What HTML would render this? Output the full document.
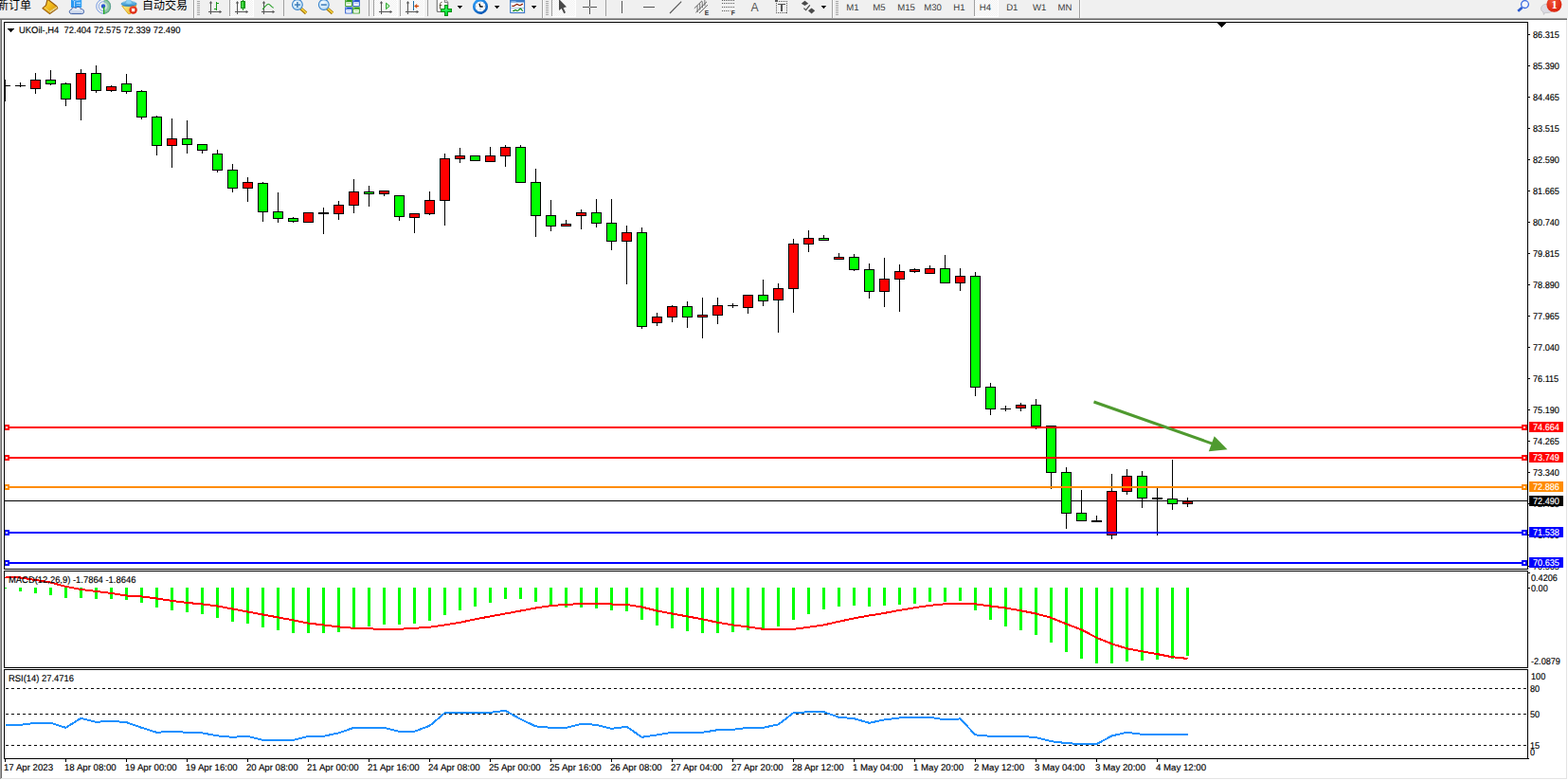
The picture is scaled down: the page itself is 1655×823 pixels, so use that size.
<!DOCTYPE html>
<html><head><meta charset="utf-8"><title>UKOil H4</title>
<style>
html,body{margin:0;padding:0;}
body{width:1655px;height:823px;overflow:hidden;background:#fff;position:relative;font-family:"Liberation Sans", sans-serif;}
.tb{position:absolute;left:0;top:0;width:1655px;height:19px;background:#f0f0f0;}
.chart{position:absolute;left:0;top:0;}
.tbs{position:absolute;left:0;top:0;overflow:hidden;}
.t{position:absolute;white-space:pre;line-height:11px;height:11px;font-family:"Liberation Sans", sans-serif;transform-origin:0 0;text-rendering:geometricPrecision;margin-top:1px;-webkit-text-stroke:0.15px;}
.pl{text-rendering:geometricPrecision;-webkit-text-stroke:0.15px;position:absolute;left:1614px;width:36px;height:11px;line-height:11px;font-size:9.8px;color:#fff;white-space:pre;}
.pl span{display:inline-block;position:relative;top:1px;transform:scaleX(0.93);transform-origin:0 0;margin-left:4px;}
</style></head><body>
<div class="tb"></div>
<svg class="chart" width="1655" height="823" viewBox="0 0 1655 823" shape-rendering="crispEdges">
<rect x="0" y="19" width="1654" height="1" fill="#a0a0a0"/>
<rect x="0" y="20" width="1654" height="1" fill="#696969"/>
<rect x="0" y="21" width="1" height="801" fill="#a0a0a0"/>
<rect x="1" y="21" width="1" height="800" fill="#696969"/>
<rect x="1653" y="21" width="1" height="801" fill="#e3e3e3"/>
<rect x="1" y="821" width="1653" height="1" fill="#e3e3e3"/>
<rect x="5" y="528" width="1607" height="1" fill="#000"/>
<rect x="4" y="23" width="1609" height="1" fill="#000"/>
<rect x="4" y="600" width="1609" height="1" fill="#000"/>
<rect x="4" y="23" width="1" height="578" fill="#000"/>
<rect x="1612" y="23" width="1" height="578" fill="#000"/>
<rect x="4" y="602" width="1609" height="1" fill="#000"/>
<rect x="4" y="704" width="1609" height="1" fill="#000"/>
<rect x="4" y="602" width="1" height="103" fill="#000"/>
<rect x="1612" y="602" width="1" height="103" fill="#000"/>
<rect x="4" y="706" width="1609" height="1" fill="#000"/>
<rect x="4" y="800" width="1609" height="1" fill="#000"/>
<rect x="4" y="706" width="1" height="95" fill="#000"/>
<rect x="1612" y="706" width="1" height="95" fill="#000"/>
<rect x="5" y="84" width="1" height="23" fill="#000"/>
<rect x="5" y="90" width="6" height="1" fill="#000"/>
<rect x="21" y="87" width="1" height="5" fill="#000"/>
<rect x="16" y="90" width="11" height="1" fill="#000"/>
<rect x="37" y="77" width="1" height="22" fill="#000"/>
<rect x="32" y="84" width="11" height="10" fill="#000"/>
<rect x="33" y="85" width="9" height="8" fill="#ff0000"/>
<rect x="53" y="74" width="1" height="16" fill="#000"/>
<rect x="48" y="84" width="11" height="5" fill="#000"/>
<rect x="49" y="85" width="9" height="3" fill="#00ff00"/>
<rect x="69" y="87" width="1" height="25" fill="#000"/>
<rect x="64" y="88" width="11" height="17" fill="#000"/>
<rect x="65" y="89" width="9" height="15" fill="#00ff00"/>
<rect x="85" y="73" width="1" height="54" fill="#000"/>
<rect x="80" y="77" width="11" height="28" fill="#000"/>
<rect x="81" y="78" width="9" height="26" fill="#ff0000"/>
<rect x="101" y="69" width="1" height="29" fill="#000"/>
<rect x="96" y="77" width="11" height="19" fill="#000"/>
<rect x="97" y="78" width="9" height="17" fill="#00ff00"/>
<rect x="117" y="90" width="1" height="7" fill="#000"/>
<rect x="112" y="91" width="11" height="5" fill="#000"/>
<rect x="113" y="92" width="9" height="3" fill="#ff0000"/>
<rect x="133" y="78" width="1" height="21" fill="#000"/>
<rect x="128" y="88" width="11" height="9" fill="#000"/>
<rect x="129" y="89" width="9" height="7" fill="#00ff00"/>
<rect x="149" y="95" width="1" height="31" fill="#000"/>
<rect x="144" y="96" width="11" height="28" fill="#000"/>
<rect x="145" y="97" width="9" height="26" fill="#00ff00"/>
<rect x="165" y="122" width="1" height="42" fill="#000"/>
<rect x="160" y="123" width="11" height="31" fill="#000"/>
<rect x="161" y="124" width="9" height="29" fill="#00ff00"/>
<rect x="181" y="125" width="1" height="52" fill="#000"/>
<rect x="176" y="146" width="11" height="8" fill="#000"/>
<rect x="177" y="147" width="9" height="6" fill="#ff0000"/>
<rect x="197" y="127" width="1" height="35" fill="#000"/>
<rect x="192" y="146" width="11" height="7" fill="#000"/>
<rect x="193" y="147" width="9" height="5" fill="#00ff00"/>
<rect x="213" y="152" width="1" height="10" fill="#000"/>
<rect x="208" y="152" width="11" height="7" fill="#000"/>
<rect x="209" y="153" width="9" height="5" fill="#00ff00"/>
<rect x="229" y="158" width="1" height="24" fill="#000"/>
<rect x="224" y="162" width="11" height="18" fill="#000"/>
<rect x="225" y="163" width="9" height="16" fill="#00ff00"/>
<rect x="245" y="173" width="1" height="30" fill="#000"/>
<rect x="240" y="179" width="11" height="20" fill="#000"/>
<rect x="241" y="180" width="9" height="18" fill="#00ff00"/>
<rect x="261" y="187" width="1" height="26" fill="#000"/>
<rect x="256" y="192" width="11" height="7" fill="#000"/>
<rect x="257" y="193" width="9" height="5" fill="#ff0000"/>
<rect x="277" y="192" width="1" height="42" fill="#000"/>
<rect x="272" y="193" width="11" height="31" fill="#000"/>
<rect x="273" y="194" width="9" height="29" fill="#00ff00"/>
<rect x="293" y="203" width="1" height="32" fill="#000"/>
<rect x="288" y="223" width="11" height="8" fill="#000"/>
<rect x="289" y="224" width="9" height="6" fill="#00ff00"/>
<rect x="309" y="229" width="1" height="6" fill="#000"/>
<rect x="304" y="230" width="11" height="4" fill="#000"/>
<rect x="305" y="231" width="9" height="2" fill="#00ff00"/>
<rect x="325" y="224" width="1" height="11" fill="#000"/>
<rect x="320" y="224" width="11" height="11" fill="#000"/>
<rect x="321" y="225" width="9" height="9" fill="#ff0000"/>
<rect x="341" y="219" width="1" height="28" fill="#000"/>
<rect x="336" y="224" width="11" height="2" fill="#000"/>
<rect x="357" y="212" width="1" height="20" fill="#000"/>
<rect x="352" y="216" width="11" height="10" fill="#000"/>
<rect x="353" y="217" width="9" height="8" fill="#ff0000"/>
<rect x="373" y="189" width="1" height="36" fill="#000"/>
<rect x="368" y="202" width="11" height="15" fill="#000"/>
<rect x="369" y="203" width="9" height="13" fill="#ff0000"/>
<rect x="389" y="196" width="1" height="22" fill="#000"/>
<rect x="384" y="202" width="11" height="3" fill="#000"/>
<rect x="385" y="203" width="9" height="1" fill="#00ff00"/>
<rect x="405" y="201" width="1" height="6" fill="#000"/>
<rect x="400" y="201" width="11" height="4" fill="#000"/>
<rect x="401" y="202" width="9" height="2" fill="#ff0000"/>
<rect x="421" y="206" width="1" height="27" fill="#000"/>
<rect x="416" y="206" width="11" height="23" fill="#000"/>
<rect x="417" y="207" width="9" height="21" fill="#00ff00"/>
<rect x="437" y="225" width="1" height="21" fill="#000"/>
<rect x="432" y="225" width="11" height="5" fill="#000"/>
<rect x="433" y="226" width="9" height="3" fill="#ff0000"/>
<rect x="453" y="202" width="1" height="25" fill="#000"/>
<rect x="448" y="211" width="11" height="15" fill="#000"/>
<rect x="449" y="212" width="9" height="13" fill="#ff0000"/>
<rect x="469" y="162" width="1" height="76" fill="#000"/>
<rect x="464" y="167" width="11" height="45" fill="#000"/>
<rect x="465" y="168" width="9" height="43" fill="#ff0000"/>
<rect x="485" y="156" width="1" height="16" fill="#000"/>
<rect x="480" y="164" width="11" height="4" fill="#000"/>
<rect x="481" y="165" width="9" height="2" fill="#ff0000"/>
<rect x="501" y="164" width="1" height="6" fill="#000"/>
<rect x="496" y="164" width="11" height="6" fill="#000"/>
<rect x="497" y="165" width="9" height="4" fill="#00ff00"/>
<rect x="517" y="155" width="1" height="16" fill="#000"/>
<rect x="512" y="164" width="11" height="7" fill="#000"/>
<rect x="513" y="165" width="9" height="5" fill="#ff0000"/>
<rect x="533" y="153" width="1" height="23" fill="#000"/>
<rect x="528" y="155" width="11" height="10" fill="#000"/>
<rect x="529" y="156" width="9" height="8" fill="#ff0000"/>
<rect x="549" y="153" width="1" height="40" fill="#000"/>
<rect x="544" y="155" width="11" height="38" fill="#000"/>
<rect x="545" y="156" width="9" height="36" fill="#00ff00"/>
<rect x="565" y="178" width="1" height="72" fill="#000"/>
<rect x="560" y="192" width="11" height="36" fill="#000"/>
<rect x="561" y="193" width="9" height="34" fill="#00ff00"/>
<rect x="581" y="211" width="1" height="33" fill="#000"/>
<rect x="576" y="227" width="11" height="12" fill="#000"/>
<rect x="577" y="228" width="9" height="10" fill="#00ff00"/>
<rect x="597" y="232" width="1" height="7" fill="#000"/>
<rect x="592" y="236" width="11" height="3" fill="#000"/>
<rect x="593" y="237" width="9" height="1" fill="#ff0000"/>
<rect x="613" y="221" width="1" height="21" fill="#000"/>
<rect x="608" y="224" width="11" height="4" fill="#000"/>
<rect x="609" y="225" width="9" height="2" fill="#ff0000"/>
<rect x="629" y="210" width="1" height="30" fill="#000"/>
<rect x="624" y="224" width="11" height="12" fill="#000"/>
<rect x="625" y="225" width="9" height="10" fill="#00ff00"/>
<rect x="645" y="210" width="1" height="54" fill="#000"/>
<rect x="640" y="235" width="11" height="20" fill="#000"/>
<rect x="641" y="236" width="9" height="18" fill="#00ff00"/>
<rect x="661" y="238" width="1" height="62" fill="#000"/>
<rect x="656" y="245" width="11" height="10" fill="#000"/>
<rect x="657" y="246" width="9" height="8" fill="#ff0000"/>
<rect x="677" y="240" width="1" height="107" fill="#000"/>
<rect x="672" y="245" width="11" height="100" fill="#000"/>
<rect x="673" y="246" width="9" height="98" fill="#00ff00"/>
<rect x="693" y="330" width="1" height="14" fill="#000"/>
<rect x="688" y="334" width="11" height="7" fill="#000"/>
<rect x="689" y="335" width="9" height="5" fill="#ff0000"/>
<rect x="709" y="322" width="1" height="18" fill="#000"/>
<rect x="704" y="323" width="11" height="12" fill="#000"/>
<rect x="705" y="324" width="9" height="10" fill="#ff0000"/>
<rect x="725" y="318" width="1" height="28" fill="#000"/>
<rect x="720" y="323" width="11" height="12" fill="#000"/>
<rect x="721" y="324" width="9" height="10" fill="#00ff00"/>
<rect x="741" y="314" width="1" height="43" fill="#000"/>
<rect x="736" y="332" width="11" height="3" fill="#000"/>
<rect x="737" y="333" width="9" height="1" fill="#ff0000"/>
<rect x="757" y="314" width="1" height="28" fill="#000"/>
<rect x="752" y="322" width="11" height="11" fill="#000"/>
<rect x="753" y="323" width="9" height="9" fill="#ff0000"/>
<rect x="773" y="320" width="1" height="5" fill="#000"/>
<rect x="768" y="322" width="11" height="1" fill="#000"/>
<rect x="789" y="311" width="1" height="20" fill="#000"/>
<rect x="784" y="311" width="11" height="14" fill="#000"/>
<rect x="785" y="312" width="9" height="12" fill="#ff0000"/>
<rect x="805" y="295" width="1" height="28" fill="#000"/>
<rect x="800" y="311" width="11" height="7" fill="#000"/>
<rect x="801" y="312" width="9" height="5" fill="#00ff00"/>
<rect x="821" y="299" width="1" height="52" fill="#000"/>
<rect x="816" y="304" width="11" height="13" fill="#000"/>
<rect x="817" y="305" width="9" height="11" fill="#ff0000"/>
<rect x="837" y="252" width="1" height="78" fill="#000"/>
<rect x="832" y="257" width="11" height="48" fill="#000"/>
<rect x="833" y="258" width="9" height="46" fill="#ff0000"/>
<rect x="853" y="243" width="1" height="23" fill="#000"/>
<rect x="848" y="251" width="11" height="7" fill="#000"/>
<rect x="849" y="252" width="9" height="5" fill="#ff0000"/>
<rect x="869" y="248" width="1" height="6" fill="#000"/>
<rect x="864" y="251" width="11" height="3" fill="#000"/>
<rect x="865" y="252" width="9" height="1" fill="#00ff00"/>
<rect x="885" y="267" width="1" height="7" fill="#000"/>
<rect x="880" y="271" width="11" height="3" fill="#000"/>
<rect x="881" y="272" width="9" height="1" fill="#ff0000"/>
<rect x="901" y="268" width="1" height="18" fill="#000"/>
<rect x="896" y="271" width="11" height="14" fill="#000"/>
<rect x="897" y="272" width="9" height="12" fill="#00ff00"/>
<rect x="917" y="278" width="1" height="37" fill="#000"/>
<rect x="912" y="284" width="11" height="24" fill="#000"/>
<rect x="913" y="285" width="9" height="22" fill="#00ff00"/>
<rect x="933" y="272" width="1" height="52" fill="#000"/>
<rect x="928" y="294" width="11" height="14" fill="#000"/>
<rect x="929" y="295" width="9" height="12" fill="#ff0000"/>
<rect x="949" y="279" width="1" height="50" fill="#000"/>
<rect x="944" y="286" width="11" height="9" fill="#000"/>
<rect x="945" y="287" width="9" height="7" fill="#ff0000"/>
<rect x="965" y="283" width="1" height="5" fill="#000"/>
<rect x="960" y="284" width="11" height="3" fill="#000"/>
<rect x="961" y="285" width="9" height="1" fill="#ff0000"/>
<rect x="981" y="280" width="1" height="9" fill="#000"/>
<rect x="976" y="283" width="11" height="6" fill="#000"/>
<rect x="977" y="284" width="9" height="4" fill="#ff0000"/>
<rect x="997" y="269" width="1" height="30" fill="#000"/>
<rect x="992" y="283" width="11" height="16" fill="#000"/>
<rect x="993" y="284" width="9" height="14" fill="#00ff00"/>
<rect x="1013" y="283" width="1" height="24" fill="#000"/>
<rect x="1008" y="291" width="11" height="8" fill="#000"/>
<rect x="1009" y="292" width="9" height="6" fill="#ff0000"/>
<rect x="1029" y="287" width="1" height="131" fill="#000"/>
<rect x="1024" y="291" width="11" height="118" fill="#000"/>
<rect x="1025" y="292" width="9" height="116" fill="#00ff00"/>
<rect x="1045" y="404" width="1" height="34" fill="#000"/>
<rect x="1040" y="408" width="11" height="24" fill="#000"/>
<rect x="1041" y="409" width="9" height="22" fill="#00ff00"/>
<rect x="1061" y="428" width="1" height="6" fill="#000"/>
<rect x="1056" y="431" width="11" height="1" fill="#000"/>
<rect x="1077" y="425" width="1" height="9" fill="#000"/>
<rect x="1072" y="427" width="11" height="4" fill="#000"/>
<rect x="1073" y="428" width="9" height="2" fill="#ff0000"/>
<rect x="1093" y="421" width="1" height="32" fill="#000"/>
<rect x="1088" y="427" width="11" height="23" fill="#000"/>
<rect x="1089" y="428" width="9" height="21" fill="#00ff00"/>
<rect x="1109" y="449" width="1" height="67" fill="#000"/>
<rect x="1104" y="449" width="11" height="50" fill="#000"/>
<rect x="1105" y="450" width="9" height="48" fill="#00ff00"/>
<rect x="1125" y="493" width="1" height="65" fill="#000"/>
<rect x="1120" y="498" width="11" height="44" fill="#000"/>
<rect x="1121" y="499" width="9" height="42" fill="#00ff00"/>
<rect x="1141" y="517" width="1" height="33" fill="#000"/>
<rect x="1136" y="541" width="11" height="9" fill="#000"/>
<rect x="1137" y="542" width="9" height="7" fill="#00ff00"/>
<rect x="1157" y="544" width="1" height="7" fill="#000"/>
<rect x="1152" y="549" width="11" height="2" fill="#000"/>
<rect x="1173" y="500" width="1" height="69" fill="#000"/>
<rect x="1168" y="518" width="11" height="47" fill="#000"/>
<rect x="1169" y="519" width="9" height="45" fill="#ff0000"/>
<rect x="1189" y="495" width="1" height="27" fill="#000"/>
<rect x="1184" y="502" width="11" height="17" fill="#000"/>
<rect x="1185" y="503" width="9" height="15" fill="#ff0000"/>
<rect x="1205" y="497" width="1" height="39" fill="#000"/>
<rect x="1200" y="502" width="11" height="24" fill="#000"/>
<rect x="1201" y="503" width="9" height="22" fill="#00ff00"/>
<rect x="1221" y="515" width="1" height="50" fill="#000"/>
<rect x="1216" y="525" width="11" height="2" fill="#000"/>
<rect x="1237" y="485" width="1" height="53" fill="#000"/>
<rect x="1232" y="526" width="11" height="6" fill="#000"/>
<rect x="1233" y="527" width="9" height="4" fill="#00ff00"/>
<rect x="1253" y="525" width="1" height="10" fill="#000"/>
<rect x="1248" y="529" width="11" height="3" fill="#000"/>
<rect x="1249" y="530" width="9" height="1" fill="#ff0000"/>
<rect x="5" y="450" width="1607" height="2" fill="#ff0000"/>
<rect x="5" y="448" width="5" height="6" fill="#ff0000"/>
<rect x="6" y="450" width="2" height="2" fill="#fff"/>
<rect x="1606" y="448" width="6" height="6" fill="#ff0000"/>
<rect x="1608" y="450" width="2" height="2" fill="#fff"/>
<rect x="5" y="482" width="1607" height="2" fill="#ff0000"/>
<rect x="5" y="480" width="5" height="6" fill="#ff0000"/>
<rect x="6" y="482" width="2" height="2" fill="#fff"/>
<rect x="1606" y="480" width="6" height="6" fill="#ff0000"/>
<rect x="1608" y="482" width="2" height="2" fill="#fff"/>
<rect x="5" y="513" width="1607" height="2" fill="#ff8c00"/>
<rect x="5" y="511" width="5" height="6" fill="#ff8c00"/>
<rect x="6" y="513" width="2" height="2" fill="#fff"/>
<rect x="1606" y="511" width="6" height="6" fill="#ff8c00"/>
<rect x="1608" y="513" width="2" height="2" fill="#fff"/>
<rect x="5" y="561" width="1607" height="2" fill="#0000ff"/>
<rect x="5" y="559" width="5" height="6" fill="#0000ff"/>
<rect x="6" y="561" width="2" height="2" fill="#fff"/>
<rect x="1606" y="559" width="6" height="6" fill="#0000ff"/>
<rect x="1608" y="561" width="2" height="2" fill="#fff"/>
<rect x="5" y="593" width="1607" height="2" fill="#0000ff"/>
<rect x="5" y="591" width="5" height="6" fill="#0000ff"/>
<rect x="6" y="593" width="2" height="2" fill="#fff"/>
<rect x="1606" y="591" width="6" height="6" fill="#0000ff"/>
<rect x="1608" y="593" width="2" height="2" fill="#fff"/>
<rect x="1285" y="24" width="9" height="1" fill="#000"/>
<rect x="1286" y="25" width="7" height="1" fill="#000"/>
<rect x="1287" y="26" width="5" height="1" fill="#000"/>
<rect x="1288" y="27" width="3" height="1" fill="#000"/>
<rect x="1289" y="28" width="1" height="1" fill="#000"/>
<rect x="8" y="30" width="7" height="1" fill="#000"/>
<rect x="9" y="31" width="5" height="1" fill="#000"/>
<rect x="10" y="32" width="3" height="1" fill="#000"/>
<rect x="11" y="33" width="1" height="1" fill="#000"/>
<g shape-rendering="auto"><line x1="1154.5" y1="424" x2="1281" y2="468.6" stroke="#4f9a2f" stroke-width="3"/><polygon points="1281.7,460.3 1295.5,474.2 1275.8,476.3" fill="#4f9a2f"/></g>
<rect x="5" y="620" width="2" height="1" fill="#00ff00"/>
<rect x="20" y="620" width="3" height="4" fill="#00ff00"/>
<rect x="36" y="620" width="3" height="6" fill="#00ff00"/>
<rect x="52" y="620" width="3" height="8" fill="#00ff00"/>
<rect x="68" y="620" width="3" height="11" fill="#00ff00"/>
<rect x="84" y="620" width="3" height="11" fill="#00ff00"/>
<rect x="100" y="620" width="3" height="12" fill="#00ff00"/>
<rect x="116" y="620" width="3" height="12" fill="#00ff00"/>
<rect x="132" y="620" width="3" height="13" fill="#00ff00"/>
<rect x="148" y="620" width="3" height="16" fill="#00ff00"/>
<rect x="164" y="620" width="3" height="21" fill="#00ff00"/>
<rect x="180" y="620" width="3" height="24" fill="#00ff00"/>
<rect x="196" y="620" width="3" height="26" fill="#00ff00"/>
<rect x="212" y="620" width="3" height="28" fill="#00ff00"/>
<rect x="228" y="620" width="3" height="32" fill="#00ff00"/>
<rect x="244" y="620" width="3" height="36" fill="#00ff00"/>
<rect x="260" y="620" width="3" height="38" fill="#00ff00"/>
<rect x="276" y="620" width="3" height="42" fill="#00ff00"/>
<rect x="292" y="620" width="3" height="45" fill="#00ff00"/>
<rect x="308" y="620" width="3" height="48" fill="#00ff00"/>
<rect x="324" y="620" width="3" height="48" fill="#00ff00"/>
<rect x="340" y="620" width="3" height="48" fill="#00ff00"/>
<rect x="356" y="620" width="3" height="47" fill="#00ff00"/>
<rect x="372" y="620" width="3" height="43" fill="#00ff00"/>
<rect x="388" y="620" width="3" height="41" fill="#00ff00"/>
<rect x="404" y="620" width="3" height="39" fill="#00ff00"/>
<rect x="420" y="620" width="3" height="39" fill="#00ff00"/>
<rect x="436" y="620" width="3" height="38" fill="#00ff00"/>
<rect x="452" y="620" width="3" height="35" fill="#00ff00"/>
<rect x="468" y="620" width="3" height="29" fill="#00ff00"/>
<rect x="484" y="620" width="3" height="24" fill="#00ff00"/>
<rect x="500" y="620" width="3" height="20" fill="#00ff00"/>
<rect x="516" y="620" width="3" height="16" fill="#00ff00"/>
<rect x="532" y="620" width="3" height="12" fill="#00ff00"/>
<rect x="548" y="620" width="3" height="12" fill="#00ff00"/>
<rect x="564" y="620" width="3" height="15" fill="#00ff00"/>
<rect x="580" y="620" width="3" height="19" fill="#00ff00"/>
<rect x="596" y="620" width="3" height="21" fill="#00ff00"/>
<rect x="612" y="620" width="3" height="21" fill="#00ff00"/>
<rect x="628" y="620" width="3" height="22" fill="#00ff00"/>
<rect x="644" y="620" width="3" height="24" fill="#00ff00"/>
<rect x="660" y="620" width="3" height="25" fill="#00ff00"/>
<rect x="676" y="620" width="3" height="34" fill="#00ff00"/>
<rect x="692" y="620" width="3" height="40" fill="#00ff00"/>
<rect x="708" y="620" width="3" height="43" fill="#00ff00"/>
<rect x="724" y="620" width="3" height="46" fill="#00ff00"/>
<rect x="740" y="620" width="3" height="48" fill="#00ff00"/>
<rect x="756" y="620" width="3" height="48" fill="#00ff00"/>
<rect x="772" y="620" width="3" height="47" fill="#00ff00"/>
<rect x="788" y="620" width="3" height="45" fill="#00ff00"/>
<rect x="804" y="620" width="3" height="44" fill="#00ff00"/>
<rect x="820" y="620" width="3" height="41" fill="#00ff00"/>
<rect x="836" y="620" width="3" height="34" fill="#00ff00"/>
<rect x="852" y="620" width="3" height="28" fill="#00ff00"/>
<rect x="868" y="620" width="3" height="23" fill="#00ff00"/>
<rect x="884" y="620" width="3" height="20" fill="#00ff00"/>
<rect x="900" y="620" width="3" height="19" fill="#00ff00"/>
<rect x="916" y="620" width="3" height="20" fill="#00ff00"/>
<rect x="932" y="620" width="3" height="19" fill="#00ff00"/>
<rect x="948" y="620" width="3" height="18" fill="#00ff00"/>
<rect x="964" y="620" width="3" height="17" fill="#00ff00"/>
<rect x="980" y="620" width="3" height="15" fill="#00ff00"/>
<rect x="996" y="620" width="3" height="15" fill="#00ff00"/>
<rect x="1012" y="620" width="3" height="14" fill="#00ff00"/>
<rect x="1028" y="620" width="3" height="24" fill="#00ff00"/>
<rect x="1044" y="620" width="3" height="34" fill="#00ff00"/>
<rect x="1060" y="620" width="3" height="41" fill="#00ff00"/>
<rect x="1076" y="620" width="3" height="45" fill="#00ff00"/>
<rect x="1092" y="620" width="3" height="50" fill="#00ff00"/>
<rect x="1108" y="620" width="3" height="58" fill="#00ff00"/>
<rect x="1124" y="620" width="3" height="68" fill="#00ff00"/>
<rect x="1140" y="620" width="3" height="75" fill="#00ff00"/>
<rect x="1156" y="620" width="3" height="80" fill="#00ff00"/>
<rect x="1172" y="620" width="3" height="80" fill="#00ff00"/>
<rect x="1188" y="620" width="3" height="78" fill="#00ff00"/>
<rect x="1204" y="620" width="3" height="77" fill="#00ff00"/>
<rect x="1220" y="620" width="3" height="76" fill="#00ff00"/>
<rect x="1236" y="620" width="3" height="75" fill="#00ff00"/>
<rect x="1252" y="620" width="3" height="72" fill="#00ff00"/>
<polyline points="5.5,609 21.5,609.5 37.5,612 53.5,614.6 69.5,618.9 85.5,621.9 101.5,623.9 117.5,625.9 133.5,628.5 149.5,629.5 165.5,631.5 181.5,633.9 197.5,635.9 213.5,637.5 229.5,639.5 245.5,642.5 261.5,645.5 277.5,648.5 293.5,651.4 309.5,654.4 325.5,657.6 341.5,659.4 357.5,661.4 373.5,662.8 389.5,663.4 405.5,663.8 421.5,663.8 437.5,662.8 453.5,661.8 469.5,659.4 485.5,656.8 501.5,653.4 517.5,650.4 533.5,647.5 549.5,644.5 565.5,641.5 581.5,639.1 597.5,637.9 613.5,637.1 629.5,637.1 645.5,637.5 661.5,637.9 677.5,640.5 693.5,644.5 709.5,647.5 725.5,650.4 741.5,653.4 757.5,656.8 773.5,659.4 789.5,661.4 805.5,663.8 821.5,663.8 837.5,663.8 853.5,661.8 869.5,659.4 885.5,655.8 901.5,652.4 917.5,649.5 933.5,646.9 949.5,643.9 965.5,641.2 981.5,638.9 997.5,637.3 1013.5,636.9 1029.5,637.3 1045.5,639.5 1061.5,641.5 1077.5,644.3 1093.5,647.5 1109.5,651.8 1125.5,658.4 1141.5,664.4 1157.5,672.8 1173.5,679.4 1189.5,684.3 1205.5,687.3 1221.5,690.1 1237.5,693.3 1253.5,694.9" fill="none" stroke="#ff0000" stroke-width="2"/>
<line x1="6" y1="726.5" x2="1612" y2="726.5" stroke="#000" stroke-width="1" stroke-dasharray="3 3"/>
<line x1="6" y1="753.5" x2="1612" y2="753.5" stroke="#000" stroke-width="1" stroke-dasharray="3 3"/>
<line x1="6" y1="786.5" x2="1612" y2="786.5" stroke="#000" stroke-width="1" stroke-dasharray="3 3"/>
<polyline points="5.5,764.8 21.5,764.8 37.5,762.8 53.5,762.8 69.5,767.8 85.5,757.8 101.5,761.8 117.5,760.8 133.5,762.2 149.5,767.8 165.5,772.8 181.5,771.8 197.5,772.8 213.5,773.4 229.5,776.4 245.5,777.8 261.5,776.8 277.5,780.8 293.5,780.8 309.5,780.8 325.5,776.8 341.5,776.8 357.5,773.4 373.5,767.8 389.5,767.8 405.5,767.8 421.5,771.8 437.5,771.8 453.5,765.8 469.5,752.2 485.5,752.2 501.5,752.2 517.5,751.8 533.5,749.9 549.5,758.8 565.5,766.4 581.5,767.8 597.5,767.8 613.5,763.8 629.5,764.8 645.5,768.8 661.5,766.8 677.5,777.8 693.5,775.4 709.5,772.8 725.5,772.8 741.5,772.8 757.5,770.2 773.5,769.8 789.5,767.8 805.5,767.8 821.5,764.4 837.5,752.2 853.5,751.2 869.5,751.2 885.5,756.8 901.5,758.2 917.5,762.8 933.5,759.4 949.5,757.4 965.5,756.8 981.5,756.8 997.5,759.4 1013.5,758.4 1029.5,775.4 1045.5,776.8 1061.5,776.8 1077.5,776.8 1093.5,778.2 1109.5,782.2 1125.5,784.1 1141.5,785.1 1157.5,785.1 1173.5,776.4 1189.5,772.8 1205.5,774.8 1221.5,774.8 1237.5,774.8 1253.5,774.8" fill="none" stroke="#1e90ff" stroke-width="2"/>
<rect x="5" y="801" width="1" height="3" fill="#000"/>
<rect x="69" y="801" width="1" height="3" fill="#000"/>
<rect x="133" y="801" width="1" height="3" fill="#000"/>
<rect x="197" y="801" width="1" height="3" fill="#000"/>
<rect x="261" y="801" width="1" height="3" fill="#000"/>
<rect x="325" y="801" width="1" height="3" fill="#000"/>
<rect x="389" y="801" width="1" height="3" fill="#000"/>
<rect x="453" y="801" width="1" height="3" fill="#000"/>
<rect x="517" y="801" width="1" height="3" fill="#000"/>
<rect x="581" y="801" width="1" height="3" fill="#000"/>
<rect x="645" y="801" width="1" height="3" fill="#000"/>
<rect x="709" y="801" width="1" height="3" fill="#000"/>
<rect x="773" y="801" width="1" height="3" fill="#000"/>
<rect x="837" y="801" width="1" height="3" fill="#000"/>
<rect x="901" y="801" width="1" height="3" fill="#000"/>
<rect x="965" y="801" width="1" height="3" fill="#000"/>
<rect x="1029" y="801" width="1" height="3" fill="#000"/>
<rect x="1093" y="801" width="1" height="3" fill="#000"/>
<rect x="1157" y="801" width="1" height="3" fill="#000"/>
<rect x="1221" y="801" width="1" height="3" fill="#000"/>
<rect x="1613" y="36" width="2" height="1" fill="#000"/>
<rect x="1613" y="69" width="2" height="1" fill="#000"/>
<rect x="1613" y="102" width="2" height="1" fill="#000"/>
<rect x="1613" y="135" width="2" height="1" fill="#000"/>
<rect x="1613" y="168" width="2" height="1" fill="#000"/>
<rect x="1613" y="201" width="2" height="1" fill="#000"/>
<rect x="1613" y="234" width="2" height="1" fill="#000"/>
<rect x="1613" y="267" width="2" height="1" fill="#000"/>
<rect x="1613" y="300" width="2" height="1" fill="#000"/>
<rect x="1613" y="333" width="2" height="1" fill="#000"/>
<rect x="1613" y="366" width="2" height="1" fill="#000"/>
<rect x="1613" y="399" width="2" height="1" fill="#000"/>
<rect x="1613" y="432" width="2" height="1" fill="#000"/>
<rect x="1613" y="465" width="2" height="1" fill="#000"/>
<rect x="1613" y="498" width="2" height="1" fill="#000"/>
<rect x="1613" y="531" width="2" height="1" fill="#000"/>
<rect x="1613" y="564" width="2" height="1" fill="#000"/>
<rect x="1613" y="597" width="2" height="1" fill="#000"/>
<rect x="1613" y="604" width="2" height="1" fill="#000"/>
<rect x="1613" y="620" width="2" height="1" fill="#000"/>
<rect x="1613" y="800" width="1" height="1" fill="#000"/>
</svg>
<div class="t" style="left:20px;top:26px;color:#000;font-size:9.8px;transform:scaleX(0.96);">UKOil-,H4&nbsp; 72.404 72.575 72.339 72.490</div>
<div class="t" style="left:9px;top:606px;color:#000;font-size:9.8px;transform:scaleX(0.96);">MACD(12,26,9) -1.7864 -1.8646</div>
<div class="t" style="left:9px;top:710px;color:#000;font-size:9.8px;transform:scaleX(0.96);">RSI(14) 27.4716</div>
<div class="t" style="left:1618px;top:31px;color:#000;font-size:9.8px;transform:scaleX(0.93);">86.315</div>
<div class="t" style="left:1618px;top:64px;color:#000;font-size:9.8px;transform:scaleX(0.93);">85.390</div>
<div class="t" style="left:1618px;top:97px;color:#000;font-size:9.8px;transform:scaleX(0.93);">84.465</div>
<div class="t" style="left:1618px;top:130px;color:#000;font-size:9.8px;transform:scaleX(0.93);">83.515</div>
<div class="t" style="left:1618px;top:163px;color:#000;font-size:9.8px;transform:scaleX(0.93);">82.590</div>
<div class="t" style="left:1618px;top:196px;color:#000;font-size:9.8px;transform:scaleX(0.93);">81.665</div>
<div class="t" style="left:1618px;top:229px;color:#000;font-size:9.8px;transform:scaleX(0.93);">80.740</div>
<div class="t" style="left:1618px;top:262px;color:#000;font-size:9.8px;transform:scaleX(0.93);">79.815</div>
<div class="t" style="left:1618px;top:295px;color:#000;font-size:9.8px;transform:scaleX(0.93);">78.890</div>
<div class="t" style="left:1618px;top:328px;color:#000;font-size:9.8px;transform:scaleX(0.93);">77.965</div>
<div class="t" style="left:1618px;top:361px;color:#000;font-size:9.8px;transform:scaleX(0.93);">77.040</div>
<div class="t" style="left:1618px;top:394px;color:#000;font-size:9.8px;transform:scaleX(0.93);">76.115</div>
<div class="t" style="left:1618px;top:427px;color:#000;font-size:9.8px;transform:scaleX(0.93);">75.190</div>
<div class="t" style="left:1618px;top:460px;color:#000;font-size:9.8px;transform:scaleX(0.93);">74.265</div>
<div class="t" style="left:1618px;top:493px;color:#000;font-size:9.8px;transform:scaleX(0.93);">73.340</div>
<div class="t" style="left:1618px;top:526px;color:#000;font-size:9.8px;transform:scaleX(0.93);">72.415</div>
<div class="t" style="left:1618px;top:559px;color:#000;font-size:9.8px;transform:scaleX(0.93);">71.490</div>
<div class="t" style="left:1618px;top:592px;color:#000;font-size:9.8px;transform:scaleX(0.93);">70.565</div>
<div class="t" style="left:1616px;top:604px;color:#000;font-size:9.8px;transform:scaleX(0.93);">0.4206</div>
<div class="t" style="left:1616px;top:615px;color:#000;font-size:9.8px;transform:scaleX(0.93);">0.00</div>
<div class="t" style="left:1616px;top:692px;color:#000;font-size:9.8px;transform:scaleX(0.93);">-2.0879</div>
<div class="t" style="left:1615.6px;top:708px;color:#000;font-size:9.8px;transform:scaleX(0.93);">100</div>
<div class="t" style="left:1615.4px;top:721px;color:#000;font-size:9.8px;transform:scaleX(0.93);">80</div>
<div class="t" style="left:1615.4px;top:748px;color:#000;font-size:9.8px;transform:scaleX(0.93);">50</div>
<div class="t" style="left:1615.4px;top:781px;color:#000;font-size:9.8px;transform:scaleX(0.93);">15</div>
<div class="t" style="left:1615.4px;top:788px;color:#000;font-size:9.8px;transform:scaleX(0.93);">0</div>
<div class="t" style="left:4px;top:804px;color:#000;font-size:9.8px;transform:scaleX(0.985);">17 Apr 2023</div>
<div class="t" style="left:68px;top:804px;color:#000;font-size:9.8px;transform:scaleX(0.985);">18 Apr 08:00</div>
<div class="t" style="left:132px;top:804px;color:#000;font-size:9.8px;transform:scaleX(0.985);">19 Apr 00:00</div>
<div class="t" style="left:196px;top:804px;color:#000;font-size:9.8px;transform:scaleX(0.985);">19 Apr 16:00</div>
<div class="t" style="left:260px;top:804px;color:#000;font-size:9.8px;transform:scaleX(0.985);">20 Apr 08:00</div>
<div class="t" style="left:324px;top:804px;color:#000;font-size:9.8px;transform:scaleX(0.985);">21 Apr 00:00</div>
<div class="t" style="left:388px;top:804px;color:#000;font-size:9.8px;transform:scaleX(0.985);">21 Apr 16:00</div>
<div class="t" style="left:452px;top:804px;color:#000;font-size:9.8px;transform:scaleX(0.985);">24 Apr 08:00</div>
<div class="t" style="left:516px;top:804px;color:#000;font-size:9.8px;transform:scaleX(0.985);">25 Apr 00:00</div>
<div class="t" style="left:580px;top:804px;color:#000;font-size:9.8px;transform:scaleX(0.985);">25 Apr 16:00</div>
<div class="t" style="left:644px;top:804px;color:#000;font-size:9.8px;transform:scaleX(0.985);">26 Apr 08:00</div>
<div class="t" style="left:708px;top:804px;color:#000;font-size:9.8px;transform:scaleX(0.985);">27 Apr 04:00</div>
<div class="t" style="left:772px;top:804px;color:#000;font-size:9.8px;transform:scaleX(0.985);">27 Apr 20:00</div>
<div class="t" style="left:836px;top:804px;color:#000;font-size:9.8px;transform:scaleX(0.985);">28 Apr 12:00</div>
<div class="t" style="left:900px;top:804px;color:#000;font-size:9.8px;transform:scaleX(0.985);">1 May 04:00</div>
<div class="t" style="left:964px;top:804px;color:#000;font-size:9.8px;transform:scaleX(0.985);">1 May 20:00</div>
<div class="t" style="left:1028px;top:804px;color:#000;font-size:9.8px;transform:scaleX(0.985);">2 May 12:00</div>
<div class="t" style="left:1092px;top:804px;color:#000;font-size:9.8px;transform:scaleX(0.985);">3 May 04:00</div>
<div class="t" style="left:1156px;top:804px;color:#000;font-size:9.8px;transform:scaleX(0.985);">3 May 20:00</div>
<div class="t" style="left:1220px;top:804px;color:#000;font-size:9.8px;transform:scaleX(0.985);">4 May 12:00</div>
<div class="pl" style="top:445px;background:#ff0000"><span>74.664</span></div>
<div class="pl" style="top:477px;background:#ff0000"><span>73.749</span></div>
<div class="pl" style="top:508px;background:#ff8c00"><span>72.886</span></div>
<div class="pl" style="top:523px;background:#000"><span>72.490</span></div>
<div class="pl" style="top:556px;background:#0000ff"><span>71.538</span></div>
<div class="pl" style="top:588px;background:#0000ff"><span>70.635</span></div>
<svg class="tbs" width="1655" height="19" viewBox="0 0 1655 19">
<defs><pattern id="chk" width="2" height="2" patternUnits="userSpaceOnUse"><rect width="2" height="2" fill="#f0f0f0"/><rect width="1" height="1" fill="#fff"/><rect x="1" y="1" width="1" height="1" fill="#fff"/></pattern><linearGradient id="gold" x1="0" y1="0" x2="1" y2="1"><stop offset="0" stop-color="#fbd84a"/><stop offset="0.5" stop-color="#f0b91a"/><stop offset="1" stop-color="#c88a0c"/></linearGradient><linearGradient id="cloud" x1="0" y1="0" x2="0" y2="1"><stop offset="0" stop-color="#ffffff"/><stop offset="1" stop-color="#b9c8e4"/></linearGradient><linearGradient id="srv" x1="0" y1="0" x2="1" y2="0"><stop offset="0" stop-color="#0a7fe8"/><stop offset="1" stop-color="#35a5f7"/></linearGradient><radialGradient id="lens" cx="0.4" cy="0.35" r="0.7"><stop offset="0" stop-color="#f4fbff"/><stop offset="1" stop-color="#b5daf3"/></radialGradient><linearGradient id="grn" x1="0" y1="0" x2="1" y2="0"><stop offset="0" stop-color="#7df07d"/><stop offset="0.5" stop-color="#2fd12f"/><stop offset="1" stop-color="#0fa80f"/></linearGradient><radialGradient id="redb" cx="0.4" cy="0.3" r="0.8"><stop offset="0" stop-color="#f0553a"/><stop offset="1" stop-color="#d81c06"/></radialGradient><linearGradient id="hat" x1="0" y1="0" x2="0" y2="1"><stop offset="0" stop-color="#7cc4ec"/><stop offset="1" stop-color="#3a93c8"/></linearGradient><linearGradient id="fun" x1="0" y1="0" x2="1" y2="1"><stop offset="0" stop-color="#fff08a"/><stop offset="1" stop-color="#e8b020"/></linearGradient></defs>
<text x="-3" y="10" font-family="'Liberation Sans', 'Noto Sans CJK SC', sans-serif" font-size="12" fill="#000">新订单</text>
<text x="150" y="10" font-family="'Liberation Sans', 'Noto Sans CJK SC', sans-serif" font-size="12" fill="#000">自动交易</text>
<path d="M50.1,-1 L52,0.6 L59.4,6.2 Q61,7.8 60.6,8.8 L52.5,14.6 L45,8.8 L48.5,5.6 Z" fill="url(#gold)" stroke="#9a5c0a" stroke-width="1.2" stroke-linejoin="round"/>
<path d="M52.4,13.9 L60.6,8.6 L60,7.4 L52.2,12.4 Z" fill="#eadfae" stroke="#a87818" stroke-width="0.5"/>
<path d="M45.6,8.9 L52.3,14 L52.3,12.4 L46.6,8 Z" fill="#d49a14"/>
<path d="M46.8,7.8 L52.3,12.2 L59.8,7.4" fill="none" stroke="#fbe690" stroke-width="0.8"/>
<path d="M75,-1 L86.2,-1 L86.2,8 L75,8 Z" fill="url(#srv)"/><path d="M75,-1 L78.4,1.2 L78.4,8 L75,8 Z" fill="#2a98f2"/><path d="M78.6,1 L78.6,7.4" stroke="#e8f4ff" stroke-width="0.8"/><path d="M75.2,-1 L78.6,1.2 L86,-0.6" fill="none" stroke="#bfe0fb" stroke-width="0.7"/><rect x="80.5" y="2.6" width="4.5" height="1.2" fill="#d8ecff"/><rect x="80.5" y="5" width="4.5" height="1" fill="#7cc0f8"/>
<path d="M75.5,14.6 C72.6,14.6 72.4,10.4 75.6,10 C75.8,7.6 79,7.2 80,8.8 C81.2,6.6 85,7 85.2,9.6 C88.8,8.6 90,14.6 86.4,14.6 Z" fill="url(#cloud)" stroke="#3c5ea6" stroke-width="1"/>
<defs><radialGradient id="sigg" cx="109.2" cy="6.7" r="8" gradientUnits="userSpaceOnUse"><stop offset="0.15" stop-color="#bfe6c4" stop-opacity="0.25"/><stop offset="0.7" stop-color="#7cc88a" stop-opacity="0.7"/><stop offset="1" stop-color="#3aa04e" stop-opacity="0.95"/></radialGradient><clipPath id="sigr"><path d="M109.6,-2 L118,-2 L118,16 L109.6,16 Z"/></clipPath><clipPath id="sigl"><path d="M100,-2 L111.5,-2 L109.6,6.7 L109.6,16 L100,16 Z"/></clipPath></defs>
<circle cx="109.2" cy="6.9" r="7.9" fill="url(#sigg)" clip-path="url(#sigr)"/>
<g fill="none" stroke="#4d7fde" stroke-width="1" clip-path="url(#sigl)"><circle cx="109.2" cy="6.7" r="7.5" opacity="0.75"/><circle cx="109.2" cy="6.7" r="5" opacity="0.6"/></g>
<g fill="none" stroke="#5b8fb8" stroke-width="0.9" clip-path="url(#sigr)" opacity="0.55"><circle cx="109.2" cy="6.7" r="7.5"/><circle cx="109.2" cy="6.7" r="5"/></g>
<circle cx="109" cy="6.5" r="2.2" fill="#2a58d0"/><rect x="109" y="7" width="1.3" height="7.9" fill="#1faa1f"/>
<path d="M128.8,6.4 L144,5.6 L137.6,14.6 L135.4,14.6 Z" fill="url(#fun)" stroke="#d6a010" stroke-width="0.8"/>
<ellipse cx="136.1" cy="4.1" rx="8.1" ry="2.6" fill="#55aadc" stroke="#2f86b8" stroke-width="0.6"/>
<path d="M128.3,4.4 Q136.1,8.6 143.9,4.4 Q136.1,6.2 128.3,4.4 Z" fill="#3487bc"/>
<path d="M133.6,-1 L137.8,-1 C138.2,1 138.8,2.4 139.9,3.4 Q136,5 132.2,3.4 C133.2,2.4 133.4,1 133.6,-1 Z" fill="#8fd2f4" stroke="#5ab0de" stroke-width="0.4"/>
<path d="M129.2,3 C130.2,1.8 131.6,1.8 132.2,2.4" fill="none" stroke="#a8e0fa" stroke-width="0.8"/><path d="M140.2,2.2 C141.6,1.6 142.8,2 143.4,3" fill="none" stroke="#a8e0fa" stroke-width="0.8"/>
<circle cx="140.6" cy="10.5" r="4.2" fill="url(#redb)"/><rect x="139" y="9" width="3.2" height="3.2" fill="#fff"/>
<rect x="204" y="0" width="1" height="19" fill="#a0a0a0" shape-rendering="crispEdges"/><rect x="205" y="0" width="1" height="19" fill="#fff" shape-rendering="crispEdges"/>
<rect x="208" y="1" width="3" height="1" fill="#a6a6a6" shape-rendering="crispEdges"/>
<rect x="208" y="3" width="3" height="1" fill="#a6a6a6" shape-rendering="crispEdges"/>
<rect x="208" y="5" width="3" height="1" fill="#a6a6a6" shape-rendering="crispEdges"/>
<rect x="208" y="7" width="3" height="1" fill="#a6a6a6" shape-rendering="crispEdges"/>
<rect x="208" y="9" width="3" height="1" fill="#a6a6a6" shape-rendering="crispEdges"/>
<rect x="208" y="11" width="3" height="1" fill="#a6a6a6" shape-rendering="crispEdges"/>
<rect x="208" y="13" width="3" height="1" fill="#a6a6a6" shape-rendering="crispEdges"/>
<rect x="208" y="15" width="3" height="1" fill="#a6a6a6" shape-rendering="crispEdges"/>
<g fill="#555" shape-rendering="crispEdges"><rect x="222" y="2" width="1" height="13"/><rect x="220" y="12" width="13" height="1"/></g><polygon points="220.8,3.6 222.5,1 224.2,3.6" fill="#555"/><polygon points="231.6,10.8 234.2,12.5 231.6,14.2" fill="#555"/>
<g fill="#1a9a1a" shape-rendering="crispEdges"><rect x="228" y="2" width="1" height="9"/><rect x="229" y="3" width="2" height="1"/><rect x="226" y="9" width="2" height="1"/></g>
<rect x="242" y="0" width="1" height="17" fill="#a0a0a0" shape-rendering="crispEdges"/>
<rect x="243" y="0" width="24" height="17" fill="url(#chk)" shape-rendering="crispEdges"/><rect x="242" y="17" width="26" height="1" fill="#fff" shape-rendering="crispEdges"/><rect x="267" y="0" width="1" height="18" fill="#fff" shape-rendering="crispEdges"/>
<g fill="#555" shape-rendering="crispEdges"><rect x="250" y="2" width="1" height="13"/><rect x="248" y="12" width="13" height="1"/></g><polygon points="248.8,3.6 250.5,1 252.2,3.6" fill="#555"/><polygon points="259.6,10.8 262.2,12.5 259.6,14.2" fill="#555"/>
<rect x="256" y="0" width="1" height="11" fill="#0c8c0c" shape-rendering="crispEdges"/><rect x="254.5" y="1.5" width="4" height="7" fill="url(#grn)" stroke="#0c8c0c" stroke-width="1"/>
<g fill="#555" shape-rendering="crispEdges"><rect x="278" y="2" width="1" height="13"/><rect x="276" y="12" width="13" height="1"/></g><polygon points="276.8,3.6 278.5,1 280.2,3.6" fill="#555"/><polygon points="287.6,10.8 290.2,12.5 287.6,14.2" fill="#555"/>
<path d="M277,9.8 C279.4,8.4 281,4.2 283.2,4.2 C285.2,4.2 286.4,7.6 288.8,8.2" fill="none" stroke="#2aa02a" stroke-width="1.1"/>
<rect x="299" y="0" width="1" height="17" fill="#a0a0a0" shape-rendering="crispEdges"/>
<line x1="317.5" y1="9" x2="323.09999999999997" y2="13.9" stroke="#a87808" stroke-width="3.4" stroke-linecap="butt"/><line x1="317.79999999999995" y1="8.9" x2="323.2" y2="13.6" stroke="#f4d23c" stroke-width="1.6"/>
<circle cx="313.9" cy="5" r="5.4" fill="url(#lens)" stroke="#3d86cc" stroke-width="1.1"/>
<rect x="310.9" y="4.3" width="6" height="1.5" fill="#3c7cb8"/>
<rect x="313.15" y="2" width="1.5" height="6" fill="#3c7cb8"/>
<line x1="345.40000000000003" y1="9" x2="351.0" y2="13.9" stroke="#a87808" stroke-width="3.4" stroke-linecap="butt"/><line x1="345.7" y1="8.9" x2="351.1" y2="13.6" stroke="#f4d23c" stroke-width="1.6"/>
<circle cx="341.8" cy="5" r="5.4" fill="url(#lens)" stroke="#3d86cc" stroke-width="1.1"/>
<rect x="338.8" y="4.3" width="6" height="1.5" fill="#3c7cb8"/>
<rect x="364.2" y="-0.2" width="7.6" height="7" fill="#2f9a1a"/><rect x="365.2" y="2.1999999999999997" width="5.6" height="3.8" fill="#fff"/><rect x="366.2" y="3.1999999999999997" width="3.6" height="1" fill="#a6e08a"/><rect x="365.2" y="0.39999999999999997" width="1" height="0.8" fill="#fff" opacity="0.8"/>
<rect x="372.2" y="-0.2" width="7.6" height="7" fill="#2458d0"/><rect x="373.2" y="2.1999999999999997" width="5.6" height="3.8" fill="#fff"/><rect x="374.2" y="3.1999999999999997" width="3.6" height="1" fill="#a8c0f4"/><rect x="373.2" y="0.39999999999999997" width="1" height="0.8" fill="#fff" opacity="0.8"/>
<rect x="364.2" y="7.4" width="7.6" height="7" fill="#2458d0"/><rect x="365.2" y="9.8" width="5.6" height="3.8" fill="#fff"/><rect x="366.2" y="10.8" width="3.6" height="1" fill="#a8c0f4"/><rect x="365.2" y="8.0" width="1" height="0.8" fill="#fff" opacity="0.8"/>
<rect x="372.2" y="7.4" width="7.6" height="7" fill="#2f9a1a"/><rect x="373.2" y="9.8" width="5.6" height="3.8" fill="#fff"/><rect x="374.2" y="10.8" width="3.6" height="1" fill="#a6e08a"/><rect x="373.2" y="8.0" width="1" height="0.8" fill="#fff" opacity="0.8"/>
<rect x="389" y="0" width="1" height="17" fill="#a0a0a0" shape-rendering="crispEdges"/>
<rect x="394" y="0" width="1" height="17" fill="#a0a0a0" shape-rendering="crispEdges"/>
<rect x="395" y="0" width="24" height="17" fill="url(#chk)" shape-rendering="crispEdges"/><rect x="394" y="17" width="26" height="1" fill="#fff" shape-rendering="crispEdges"/><rect x="419" y="0" width="1" height="18" fill="#fff" shape-rendering="crispEdges"/>
<g fill="#555" shape-rendering="crispEdges"><rect x="402" y="2" width="1" height="13"/><rect x="400" y="12" width="13" height="1"/></g><polygon points="400.8,3.6 402.5,1 404.2,3.6" fill="#555"/><polygon points="411.6,10.8 414.2,12.5 411.6,14.2" fill="#555"/>
<polygon points="407.6,3.2 411.2,6.4 407.6,9.6" fill="#c8f0c8" stroke="#1fa51f" stroke-width="1"/>
<rect x="422" y="0" width="1" height="17" fill="#a0a0a0" shape-rendering="crispEdges"/>
<rect x="423" y="0" width="24" height="17" fill="url(#chk)" shape-rendering="crispEdges"/><rect x="422" y="17" width="26" height="1" fill="#fff" shape-rendering="crispEdges"/><rect x="447" y="0" width="1" height="18" fill="#fff" shape-rendering="crispEdges"/>
<g fill="#555" shape-rendering="crispEdges"><rect x="430" y="2" width="1" height="13"/><rect x="428" y="12" width="13" height="1"/></g><polygon points="428.8,3.6 430.5,1 432.2,3.6" fill="#555"/><polygon points="439.6,10.8 442.2,12.5 439.6,14.2" fill="#555"/>
<rect x="436" y="1" width="1" height="10" fill="#1a6aa0" shape-rendering="crispEdges"/><polygon points="437.4,6.4 440,4.4 439.6,6 441.8,6 441.8,6.9 439.6,6.9 440,8.4" fill="#d04a08" stroke="#d04a08" stroke-width="0.5"/>
<rect x="451" y="0" width="1" height="17" fill="#a0a0a0" shape-rendering="crispEdges"/>
<path d="M461.3,-1 L469.3,-1 L472.7,2.6 L472.7,12.3 Q472.7,12.4 472,12.4 L462.4,12.4 Q461.3,12.4 461.3,11.4 Z" fill="#fefefe" stroke="#7a7a7a" stroke-width="1.2"/><path d="M469.3,-1 L469.3,2.6 L472.7,2.6" fill="#ececec" stroke="#7a7a7a" stroke-width="1"/><path d="M466.6,2.2 C464.6,2.4 464.6,4 464.6,5.4 L464.4,9.6 M463.6,5.6 L466.4,5.4" fill="none" stroke="#4a4428" stroke-width="0.9"/>
<defs><radialGradient id="plusg" cx="0.45" cy="0.4" r="0.7"><stop offset="0" stop-color="#5cff7c"/><stop offset="0.6" stop-color="#08e83a"/><stop offset="1" stop-color="#06c02c"/></radialGradient></defs>
<g shape-rendering="crispEdges"><rect x="469" y="5" width="4" height="12" fill="#0c9018"/><rect x="465" y="9" width="12" height="4" fill="#0c9018"/><rect x="470" y="6" width="2" height="10" fill="url(#plusg)"/><rect x="466" y="10" width="10" height="2" fill="url(#plusg)"/></g>
<polygon points="482.6,6 488.20000000000005,6 485.40000000000003,9.2" fill="#000"/>
<defs><linearGradient id="clk" x1="0.2" y1="0" x2="0.8" y2="1"><stop offset="0" stop-color="#2a9af6"/><stop offset="1" stop-color="#0a58b4"/></linearGradient></defs>
<circle cx="507" cy="6.9" r="6.75" fill="#fdfdfd" stroke="url(#clk)" stroke-width="2.6"/>
<path d="M504.2,-0.9 C505.6,-1.6 508.4,-1.6 509.8,-0.9" fill="none" stroke="#1c8cf0" stroke-width="1.6"/>
<g fill="#9aa0ac"><rect x="506.6" y="1.9" width="0.8" height="1"/><rect x="502" y="6.5" width="1" height="0.8"/><rect x="511" y="6.5" width="1" height="0.8"/><rect x="503.4" y="3.3" width="0.8" height="0.8"/><rect x="509.9" y="3.3" width="0.8" height="0.8"/><rect x="503.4" y="9.8" width="0.8" height="0.8"/><rect x="509.9" y="9.8" width="0.8" height="0.8"/></g><rect x="506.2" y="9.2" width="1.6" height="0.8" fill="#7ab8f4"/>
<path d="M505.9,3.8 L506.9,7 L509.7,7" fill="none" stroke="#111" stroke-width="1.3" stroke-linejoin="round"/>
<polygon points="521.8,6 527.4,6 524.5999999999999,9.2" fill="#000"/>
<rect x="539.4" y="0.6" width="15" height="14" fill="#000" opacity="0.12"/>
<rect x="538.7" y="-1" width="14.8" height="14.4" fill="#fff" stroke="#3a78c8" stroke-width="1.1"/><rect x="538.2" y="-1" width="15.8" height="3.5" fill="#3a7cc8"/><rect x="539.6" y="1.2" width="5" height="0.7" fill="#9cc8f4"/><rect x="539.2" y="8" width="13.8" height="0.8" fill="#9ab4d8"/>
<path d="M540.3,6.4 L542.4,6.4 L544,5.3 L545.8,4.4 L547.9,5.5 L549.5,5.5 L551.1,4.4 L551.9,4.4" fill="none" stroke="#8b1a00" stroke-width="1.2"/><path d="M541.2,11.3 L542.6,11.3 L544,10.5 L545.8,11.3 L547,11 L549,9.2 L549.8,9.4 L551.7,11.6" fill="none" stroke="#128a1a" stroke-width="1.2"/>
<polygon points="560.8,6 566.4,6 563.5999999999999,9.2" fill="#000"/>
<rect x="572" y="0" width="1" height="19" fill="#a0a0a0" shape-rendering="crispEdges"/><rect x="573" y="0" width="1" height="19" fill="#fff" shape-rendering="crispEdges"/>
<rect x="576" y="1" width="3" height="1" fill="#a6a6a6" shape-rendering="crispEdges"/>
<rect x="576" y="3" width="3" height="1" fill="#a6a6a6" shape-rendering="crispEdges"/>
<rect x="576" y="5" width="3" height="1" fill="#a6a6a6" shape-rendering="crispEdges"/>
<rect x="576" y="7" width="3" height="1" fill="#a6a6a6" shape-rendering="crispEdges"/>
<rect x="576" y="9" width="3" height="1" fill="#a6a6a6" shape-rendering="crispEdges"/>
<rect x="576" y="11" width="3" height="1" fill="#a6a6a6" shape-rendering="crispEdges"/>
<rect x="576" y="13" width="3" height="1" fill="#a6a6a6" shape-rendering="crispEdges"/>
<rect x="576" y="15" width="3" height="1" fill="#a6a6a6" shape-rendering="crispEdges"/>
<rect x="582" y="0" width="1" height="17" fill="#a0a0a0" shape-rendering="crispEdges"/>
<rect x="583" y="0" width="24" height="17" fill="url(#chk)" shape-rendering="crispEdges"/><rect x="582" y="17" width="26" height="1" fill="#fff" shape-rendering="crispEdges"/><rect x="607" y="0" width="1" height="18" fill="#fff" shape-rendering="crispEdges"/>
<polygon points="590,-1 590,11 592.7,9 595.3,14.2 597,13.3 594.6,8.3 598,7.3" fill="#4a4a4a"/>
<g fill="#555" shape-rendering="crispEdges"><rect x="615" y="7" width="7" height="1"/><rect x="623" y="7" width="7" height="1"/><rect x="622" y="0" width="1" height="7"/><rect x="622" y="8" width="1" height="7"/></g>
<rect x="639" y="0" width="1" height="17" fill="#a0a0a0" shape-rendering="crispEdges"/>
<rect x="656" y="1" width="1" height="13" fill="#555" shape-rendering="crispEdges"/>
<rect x="679" y="7" width="12" height="1" fill="#555" shape-rendering="crispEdges"/>
<line x1="707" y1="14" x2="719.2" y2="1.7" stroke="#555" stroke-width="1.1"/>
<g stroke="#555" stroke-width="0.9" fill="none"><line x1="732.8" y1="8.8" x2="741" y2="0.8"/><line x1="734.4" y1="13.2" x2="746" y2="1.8"/><line x1="738" y1="14" x2="747" y2="5.2"/><path d="M736,6 l0.2,7 M738.6,3.6 l0.2,7 M741.2,1.4 l0.2,7 M743.8,0 l0.2,6.4" stroke-width="0.8"/></g>
<text x="743.8" y="15.8" font-family="Liberation Sans, sans-serif" font-weight="bold" font-size="6.6" fill="#333">E</text>
<line x1="762" y1="0.5" x2="775.5" y2="0.5" stroke="#555" stroke-width="1" stroke-dasharray="1 1" shape-rendering="crispEdges"/>
<line x1="762" y1="3.5" x2="775.5" y2="3.5" stroke="#555" stroke-width="1" stroke-dasharray="1 1" shape-rendering="crispEdges"/>
<line x1="762" y1="7.5" x2="775.5" y2="7.5" stroke="#555" stroke-width="1" stroke-dasharray="1 1" shape-rendering="crispEdges"/>
<line x1="762" y1="11.5" x2="775.5" y2="11.5" stroke="#555" stroke-width="1" stroke-dasharray="1 1" shape-rendering="crispEdges"/>
<rect x="770.5" y="10" width="6" height="7" fill="#f0f0f0"/><text x="771.8" y="15.8" font-family="Liberation Sans, sans-serif" font-weight="bold" font-size="6.6" fill="#333">F</text>
<text x="792.4" y="12" font-family="Liberation Sans, sans-serif" font-size="12.2" fill="#555">A</text>
<rect x="819.5" y="1.5" width="11" height="12" fill="none" stroke="#555" stroke-width="1" stroke-dasharray="1 1" shape-rendering="crispEdges"/><rect x="818" y="0" width="3" height="2" fill="#555"/>
<g fill="#555" shape-rendering="crispEdges"><rect x="821" y="4" width="8" height="1.4"/><rect x="824.3" y="4" width="1.4" height="8"/></g>
<polygon points="849.5,0.8 853.2,3.8 849.5,6 845.8,3.8" fill="#4a4a4a"/><polygon points="853,11.3 856.6,8.6 860.2,11.3 856.6,14.4" fill="#4a4a4a"/><path d="M848.4,8.6 L850.6,10.6 L854.8,5.4" fill="none" stroke="#4a4a4a" stroke-width="1.2"/>
<polygon points="866.6,6 872.2,6 869.4,9.2" fill="#000"/>
<rect x="878" y="0" width="1" height="19" fill="#a0a0a0" shape-rendering="crispEdges"/><rect x="879" y="0" width="1" height="19" fill="#fff" shape-rendering="crispEdges"/>
<rect x="882" y="1" width="3" height="1" fill="#a6a6a6" shape-rendering="crispEdges"/>
<rect x="882" y="3" width="3" height="1" fill="#a6a6a6" shape-rendering="crispEdges"/>
<rect x="882" y="5" width="3" height="1" fill="#a6a6a6" shape-rendering="crispEdges"/>
<rect x="882" y="7" width="3" height="1" fill="#a6a6a6" shape-rendering="crispEdges"/>
<rect x="882" y="9" width="3" height="1" fill="#a6a6a6" shape-rendering="crispEdges"/>
<rect x="882" y="11" width="3" height="1" fill="#a6a6a6" shape-rendering="crispEdges"/>
<rect x="882" y="13" width="3" height="1" fill="#a6a6a6" shape-rendering="crispEdges"/>
<rect x="882" y="15" width="3" height="1" fill="#a6a6a6" shape-rendering="crispEdges"/>
<rect x="1029" y="0" width="24" height="17" fill="url(#chk)" shape-rendering="crispEdges"/><rect x="1028" y="17" width="26" height="1" fill="#fff" shape-rendering="crispEdges"/><rect x="1053" y="0" width="1" height="18" fill="#fff" shape-rendering="crispEdges"/>
<rect x="1028" y="0" width="1" height="17" fill="#a0a0a0" shape-rendering="crispEdges"/>
<text x="900" y="11" text-anchor="middle" font-family="Liberation Sans, sans-serif" font-size="9.6" fill="#3c3c3c" style="text-rendering:geometricPrecision">M1</text>
<text x="928" y="11" text-anchor="middle" font-family="Liberation Sans, sans-serif" font-size="9.6" fill="#3c3c3c" style="text-rendering:geometricPrecision">M5</text>
<text x="956.5" y="11" text-anchor="middle" font-family="Liberation Sans, sans-serif" font-size="9.6" fill="#3c3c3c" style="text-rendering:geometricPrecision">M15</text>
<text x="984.5" y="11" text-anchor="middle" font-family="Liberation Sans, sans-serif" font-size="9.6" fill="#3c3c3c" style="text-rendering:geometricPrecision">M30</text>
<text x="1012.5" y="11" text-anchor="middle" font-family="Liberation Sans, sans-serif" font-size="9.6" fill="#3c3c3c" style="text-rendering:geometricPrecision">H1</text>
<text x="1040" y="11" text-anchor="middle" font-family="Liberation Sans, sans-serif" font-size="9.6" fill="#3c3c3c" style="text-rendering:geometricPrecision">H4</text>
<text x="1068.3" y="11" text-anchor="middle" font-family="Liberation Sans, sans-serif" font-size="9.6" fill="#3c3c3c" style="text-rendering:geometricPrecision">D1</text>
<text x="1097.1" y="11" text-anchor="middle" font-family="Liberation Sans, sans-serif" font-size="9.6" fill="#3c3c3c" style="text-rendering:geometricPrecision">W1</text>
<text x="1124" y="11" text-anchor="middle" font-family="Liberation Sans, sans-serif" font-size="9.6" fill="#3c3c3c" style="text-rendering:geometricPrecision">MN</text>
<rect x="1139" y="0" width="1" height="19" fill="#a0a0a0" shape-rendering="crispEdges"/><rect x="1140" y="0" width="1" height="19" fill="#fff" shape-rendering="crispEdges"/>
<line x1="1606.6" y1="8" x2="1602.2" y2="11.8" stroke="#2a5ad0" stroke-width="2.6"/><circle cx="1609.5" cy="4.6" r="3.9" fill="#f4f6fb" stroke="#3a6ae0" stroke-width="1.3"/>
<path d="M1626.6,9.2 C1626.6,5.6 1630,4.2 1633,4.2 C1637,4.2 1639.6,6 1639.6,9 C1639.6,12 1636.6,13.4 1633,13.4 C1632.2,13.4 1631.4,13.4 1630.8,13.2 L1629.4,15.4 L1629,12.8 C1627.4,12 1626.6,10.8 1626.6,9.2 Z" fill="#dcdce4" stroke="#bcbcc0" stroke-width="0.8"/>
<circle cx="1640.4" cy="4.8" r="8" fill="url(#redb)"/>
<text x="1640.6" y="9.4" text-anchor="middle" font-family="Liberation Serif, serif" font-weight="bold" font-size="12.5" fill="#fff">1</text>
</svg>
</body></html>
